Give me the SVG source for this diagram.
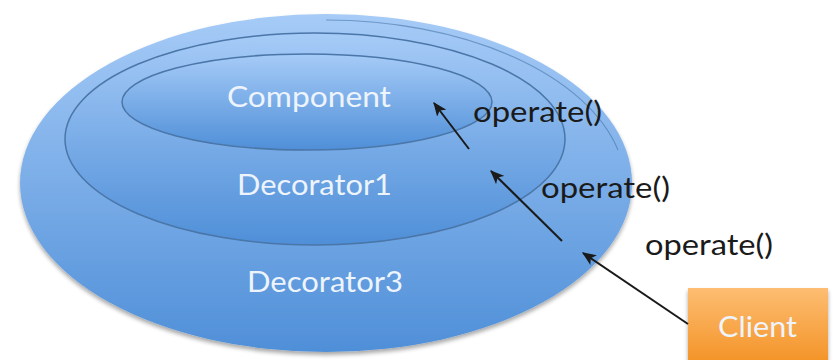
<svg xmlns="http://www.w3.org/2000/svg" width="834" height="360" viewBox="0 0 834 360">
<style>
.ell{stroke:#4a76a8;stroke-width:1.5}
.lbl{font-family:Lato,"Open Sans","Liberation Sans",sans-serif;font-size:29px;fill:#eef4fc}
.op{font-family:Lato,"Open Sans","Liberation Sans",sans-serif;font-size:29px;fill:#1a1a1a}
.arr{stroke:#1a1a1a;stroke-width:2;fill:none;marker-end:url(#ah)}
</style>
<defs>
<linearGradient id="gb" x1="0" y1="0" x2="0" y2="1">
<stop offset="0" stop-color="#a6cbf7"/>
<stop offset="1" stop-color="#4f8fd8"/>
</linearGradient>
<linearGradient id="go" x1="0" y1="0" x2="0" y2="1">
<stop offset="0" stop-color="#fdbd72"/>
<stop offset="1" stop-color="#f4952a"/>
</linearGradient>
<filter id="sh" x="-10%" y="-10%" width="120%" height="130%">
<feGaussianBlur in="SourceAlpha" stdDeviation="2"/>
<feOffset dy="3"/>
<feComponentTransfer><feFuncA type="linear" slope="0.35"/></feComponentTransfer>
<feMerge><feMergeNode/><feMergeNode in="SourceGraphic"/></feMerge>
</filter>
<marker id="ah" viewBox="0 0 12 10" refX="11" refY="5" markerWidth="7" markerHeight="6" orient="auto" markerUnits="strokeWidth">
<path d="M0,0 L12,5 L0,10 L3,5 Z" fill="#1a1a1a"/>
</marker>
</defs>
<g id="decorator3">
<ellipse cx="326" cy="183" rx="306" ry="169" fill="url(#gb)" filter="url(#sh)"/>
<path d="M326,20 A300,168 0 0 1 618,150" fill="none" stroke="#4a76a8" stroke-width="1.2" stroke-opacity="0.6"/>
<text class="lbl" x="247" y="292" textLength="156" lengthAdjust="spacingAndGlyphs">Decorator3</text>
</g>
<g id="decorator1">
<ellipse class="ell" cx="315" cy="139" rx="250" ry="106" fill="url(#gb)"/>
<text class="lbl" x="237" y="195" textLength="155" lengthAdjust="spacingAndGlyphs">Decorator1</text>
</g>
<g id="component">
<ellipse class="ell" cx="307" cy="102" rx="185" ry="48" fill="url(#gb)"/>
<text class="lbl" x="227" y="107" textLength="164" lengthAdjust="spacingAndGlyphs">Component</text>
</g>
<g id="client">
<rect x="688" y="288" width="140" height="72" fill="url(#go)" filter="url(#sh)"/>
<text class="lbl" x="718" y="337" textLength="79" lengthAdjust="spacingAndGlyphs">Client</text>
</g>
<g id="connectors">
<line class="arr" x1="469" y1="149" x2="434" y2="103"/>
<line class="arr" x1="562" y1="241" x2="491" y2="171"/>
<line class="arr" x1="688" y1="324" x2="583" y2="253"/>
<text class="op" x="473" y="122" textLength="129" lengthAdjust="spacingAndGlyphs">operate()</text>
<text class="op" x="541" y="198" textLength="129" lengthAdjust="spacingAndGlyphs">operate()</text>
<text class="op" x="645" y="255" textLength="128" lengthAdjust="spacingAndGlyphs">operate()</text>
</g>
</svg>
